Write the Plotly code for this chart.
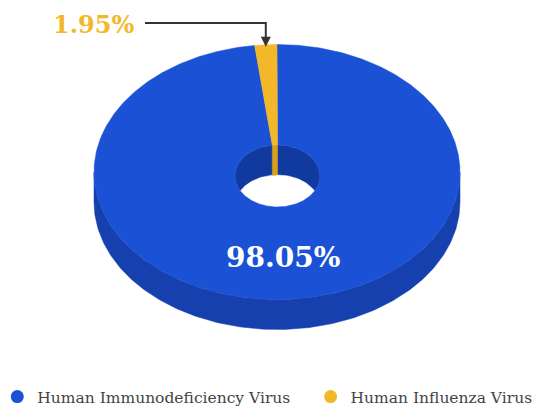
import numpy as np
import plotly.graph_objects as go

# ---- data ----
labels = ["Human Immunodeficiency Virus", "Human Influenza Virus"]
values = [98.05, 1.95]
top_colors = ["#1a51d5", "#f2b82a"]
wall_colors = ["#1540ad", "#d9a01c"]
label_text = ["98.05%", "1.95%"]

# ---- geometry (pixel space) ----
W, H = 543, 408
CX, CY, RX, RY = 277, 172, 183, 127.5       # outer top ellipse
HCX, HCY, HRX, HRY = 277.5, 176, 42.5, 31   # hole ellipse
DEPTH = 30
INNER_WALL = "#103a9e"

def ell(cx, cy, rx, ry, t_deg, dy=0.0):
    t = np.radians(np.asarray(t_deg, dtype=float))
    return cx + rx * np.sin(t), cy - ry * np.cos(t) + dy

total = sum(values)
spans = [v / total * 360 for v in values]
starts = [0.0]
for s in spans[:-1]:
    starts.append(starts[-1] + s)

fig = go.Figure()

def poly(xs, ys, color):
    fig.add_trace(go.Scatter(x=list(xs) + [xs[0]], y=list(ys) + [ys[0]], mode="lines",
                             fill="toself", fillcolor=color, line=dict(color=color, width=0.5),
                             hoverinfo="skip", showlegend=False))

# outer front side wall
tf = np.linspace(90, 270, 200)
x1, y1 = ell(CX, CY, RX, RY, tf)
x2, y2 = ell(CX, CY, RX, RY, tf[::-1], DEPTH)
poly(np.concatenate([x1, x2]), np.concatenate([y1, y2]), wall_colors[0])

# hole: inner wall dark, then floor (background) white
th = np.linspace(0, 360, 200)
hx, hy = ell(HCX, HCY, HRX, HRY, th)
poly(hx, hy, INNER_WALL)
sx, sy = ell(HCX, HCY, HRX, HRY, th, DEPTH)
poly(sx, sy, "white")

# inner back wall for slices lying in the back half
for st, sp, col in zip(starts, spans, wall_colors):
    if col == wall_colors[0]:
        continue
    t = np.linspace(st, st + sp, 30)
    ax_, ay_ = ell(HCX, HCY, HRX, HRY, t)
    bx_, by_ = ell(HCX, HCY, HRX, HRY, t[::-1], DEPTH)
    poly(np.concatenate([ax_, bx_]), np.concatenate([ay_, by_]), col)

# top faces
for st, sp, col in zip(starts, spans, top_colors):
    t = np.linspace(st, st + sp, max(int(sp * 2), 20))
    ox, oy = ell(CX, CY, RX, RY, t)
    ix, iy = ell(HCX, HCY, HRX, HRY, t[::-1])
    poly(np.concatenate([ox, ix]), np.concatenate([oy, iy]), col)

# legend entries (two legends for exact placement)
for i, (lab, col) in enumerate(zip(labels, top_colors)):
    fig.add_trace(go.Scatter(x=[None], y=[None], mode="markers", name=lab,
                             legend="legend" if i == 0 else "legend2",
                             marker=dict(color=col, size=13, symbol="circle")))

# labels
fig.add_annotation(x=283, y=257, text=label_text[0], showarrow=False,
                   font=dict(family="DejaVu Serif", size=28, color="white", weight="bold"))
fig.add_annotation(x=93, y=24, text=label_text[1], showarrow=False,
                   font=dict(family="DejaVu Serif", size=24, color="#f2b82a", weight="bold"))

mid = starts[1] + spans[1] / 2
tipx, tipy = ell(CX, CY, RX, RY, mid)
fig.add_shape(type="path", xref="x", yref="y",
              path=f"M 145 23 L {float(tipx):.1f} 23 L {float(tipx):.1f} {float(tipy)-8:.1f}",
              line=dict(color="#333333", width=2))
fig.add_annotation(x=float(tipx), y=float(tipy) + 2, ax=float(tipx), ay=float(tipy) - 10,
                   axref="x", ayref="y", xref="x", yref="y", text="", showarrow=True,
                   arrowhead=2, arrowsize=1, arrowwidth=2, arrowcolor="#333333")

leg_font = dict(family="DejaVu Serif", size=15.5, color="#444444")
fig.update_layout(
    width=W, height=H, margin=dict(l=0, r=0, t=0, b=0, autoexpand=False),
    plot_bgcolor="white", paper_bgcolor="white",
    xaxis=dict(range=[0, W], visible=False, fixedrange=True),
    yaxis=dict(range=[H, 0], visible=False, fixedrange=True),
    legend=dict(orientation="h", x=-0.005, xanchor="left", y=1 - 397 / H, yanchor="middle",
                font=leg_font, itemwidth=30, bgcolor="rgba(0,0,0,0)"),
    legend2=dict(orientation="h", x=0.572, xanchor="left", y=1 - 397 / H, yanchor="middle",
                 font=leg_font, itemwidth=30, bgcolor="rgba(0,0,0,0)"),
)

fig.write_html("out.html")
